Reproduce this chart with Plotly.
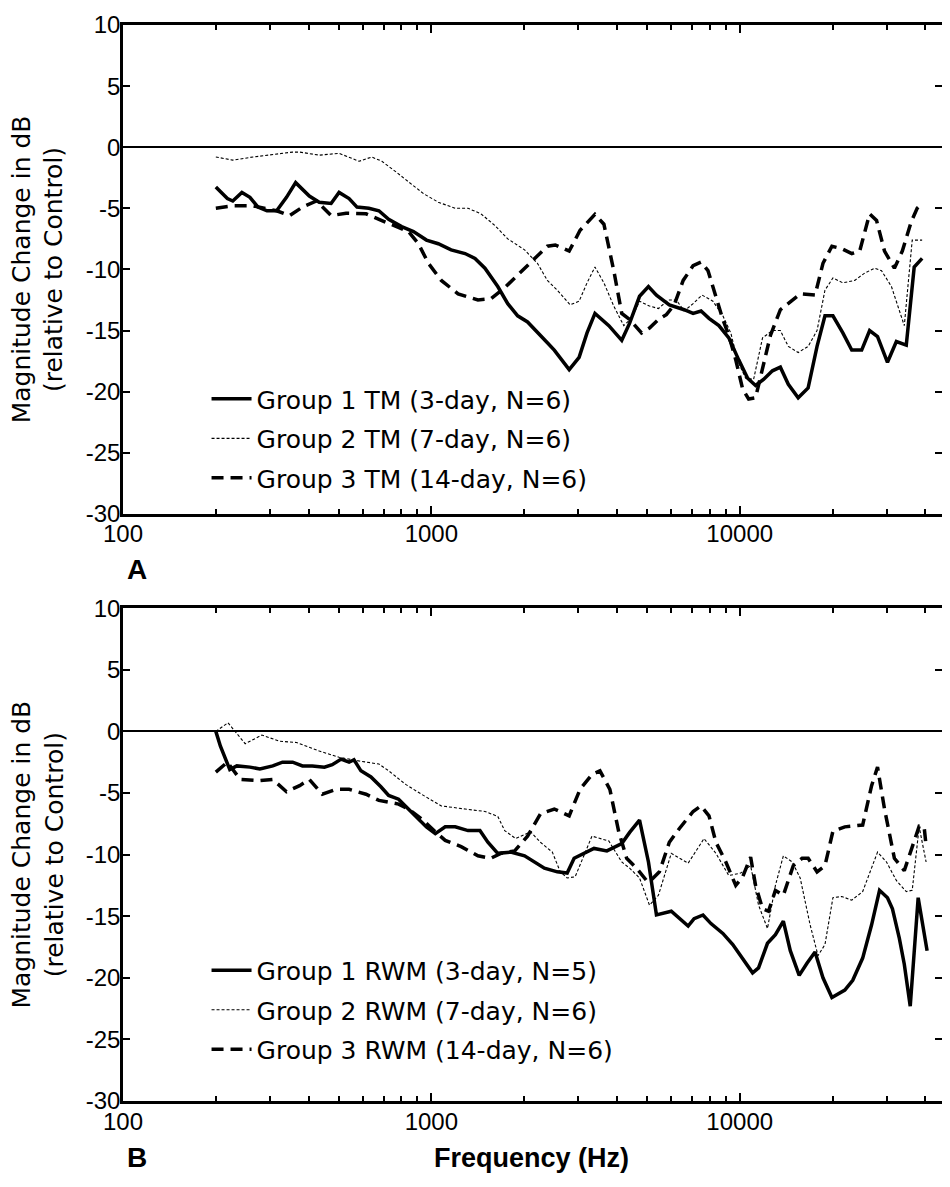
import plotly.graph_objects as go

# ---------------- Panel A (TM) ----------------
tm_g1_f = [200, 218, 227, 243, 258, 274, 293, 315, 339, 363, 402, 433, 473, 502, 541, 574, 627, 676, 727, 801,
           875, 964, 1053, 1159, 1286, 1385, 1492, 1642, 1769, 1905, 2051, 2208, 2378, 2504, 2657, 2799, 3014,
           3198, 3393, 3764, 4144, 4396, 4733, 5059, 5370, 5912, 6605, 7061, 7492, 7949, 8560, 9218, 9926,
           10610, 11256, 11946, 12767, 13546, 14374, 15477, 16668, 17815, 18900, 20057, 21598, 23084, 24862,
           26379, 27987, 30143, 32212, 34684, 36801, 39047]
tm_g1_db = [-3.25, -4.2, -4.4, -3.7, -4.1, -4.9, -5.2, -5.2, -4.1, -2.9, -4.0, -4.5, -4.6, -3.7, -4.2, -4.9, -5.0,
            -5.2, -5.9, -6.5, -6.9, -7.6, -7.9, -8.4, -8.7, -9.1, -9.9, -11.4, -12.8, -13.8, -14.3, -15.2, -16.0,
            -16.6, -17.5, -18.2, -17.2, -15.2, -13.6, -14.6, -15.8, -14.4, -12.2, -11.4, -12.1, -12.9, -13.3,
            -13.6, -13.4, -14.0, -14.6, -15.6, -17.4, -18.9, -19.5, -19.0, -18.3, -18.0, -19.4, -20.5, -19.7,
            -16.3, -13.8, -13.8, -15.2, -16.6, -16.6, -15.0, -15.5, -17.6, -15.9, -16.2, -9.8, -9.1]

tm_g2_f = [200, 227, 264, 355, 374, 424, 433, 502, 541, 583, 641, 691, 766, 843, 943, 1053, 1195, 1315, 1448, 1606,
           1769, 2006, 2208, 2378, 2561, 2820, 3014, 3198, 3393, 3627, 3905, 4206, 4461, 4733, 5097, 5450, 5869,
           6226, 6605, 7061, 7548, 8188, 8818, 9356, 9853, 10454, 11092, 11858, 12767, 13546, 14374, 15477,
           16668, 17815, 18900, 20057, 21598, 23605, 25420, 27375, 28832, 31050, 32450, 34175, 36259, 39047]
tm_g2_db = [-0.8, -1.06, -0.8, -0.4, -0.4, -0.6, -0.65, -0.5, -0.8, -1.15, -0.8, -1.15, -2.0, -2.85, -3.8, -4.5,
            -5.0, -5.0, -5.45, -6.4, -7.5, -8.4, -9.5, -10.9, -11.7, -12.9, -12.6, -11.1, -9.8, -11.1, -13.0,
            -14.6, -14.0, -12.6, -13.0, -13.2, -12.5, -12.5, -13.4, -12.8, -12.1, -12.6, -13.8, -15.2, -17.5,
            -18.9, -19.0, -15.6, -15.0, -15.0, -16.3, -16.8, -16.3, -15.0, -11.7, -10.7, -11.1, -10.9, -10.3,
            -9.9, -10.1, -11.4, -12.8, -14.6, -7.6, -7.6]

tm_g3_f = [200, 227, 264, 315, 347, 382, 424, 473, 529, 614, 691, 766, 843, 908, 978, 1077, 1221, 1416, 1559, 1729,
           1947, 2160, 2378, 2523, 2799, 3036, 3393, 3627, 3905, 4144, 4396, 4804, 5097, 5450, 5783, 6134, 6556,
           7061, 7492, 7890, 8372, 8818, 9218, 9708, 10224, 10689, 11256, 11858, 12580, 13546, 14806, 15707,
           17554, 18621, 19907, 21438, 23084, 24496, 26379, 27782, 29482, 31740, 33674, 35993, 37628, 39047]
tm_g3_db = [-5.0, -4.8, -4.8, -5.2, -5.6, -4.9, -4.4, -5.6, -5.4, -5.45, -6.0, -6.5, -6.9, -7.9, -9.5, -10.9,
            -12.0, -12.5, -12.4, -11.5, -10.2, -9.1, -8.1, -8.0, -8.5, -6.8, -5.5, -6.3, -10.1, -13.6, -14.1,
            -15.2, -14.8, -14.1, -13.7, -12.9, -10.9, -9.7, -9.4, -10.1, -12.2, -14.1, -15.4, -17.4, -19.8,
            -20.6, -20.5, -18.2, -15.4, -13.3, -12.5, -12.0, -12.1, -9.5, -8.1, -8.3, -8.7, -8.5, -5.45, -6.0,
            -8.5, -9.9, -8.5, -6.1, -5.0, -4.6]

# ---------------- Panel B (RWM) ----------------
rwm_g1_f = [200, 207, 222, 234, 258, 278, 306, 329, 355, 382, 411, 450, 477, 510, 541, 561, 591, 637, 686, 727,
            783, 843, 908, 964, 1030, 1109, 1195, 1315, 1437, 1525, 1642, 1808, 2006, 2160, 2326, 2561, 2757,
            2904, 3128, 3368, 3709, 4144, 4396, 4733, 5059, 5370, 5999, 6365, 6803, 7114, 7603, 8068, 8818,
            9495, 10224, 11010, 11510, 12303, 13055, 13852, 14588, 15592, 16544, 17554, 18621, 19907, 21919,
            23256, 25046, 26773, 28408, 30143, 31281, 32936, 34175, 35728, 37907, 39047, 40520]
rwm_g1_db = [0.0, -1.2, -3.1, -2.8, -2.9, -3.05, -2.8, -2.5, -2.5, -2.8, -2.8, -2.9, -2.7, -2.25, -2.5, -2.3,
             -3.2, -3.7, -4.5, -5.2, -5.5, -6.3, -7.1, -7.75, -8.3, -7.75, -7.75, -8.05, -8.05, -9.0, -9.9,
             -9.8, -10.1, -10.6, -11.1, -11.4, -11.5, -10.3, -9.9, -9.5, -9.7, -9.1, -8.2, -7.2, -10.6, -14.9,
             -14.6, -15.2, -15.8, -15.2, -14.9, -15.6, -16.4, -17.3, -18.5, -19.6, -19.2, -17.2, -16.5, -15.4,
             -17.8, -19.8, -18.8, -17.9, -20.0, -21.6, -21.0, -20.2, -18.4, -15.7, -12.9, -13.5, -14.4, -16.8,
             -18.9, -22.3, -13.5, -15.4, -17.8]

rwm_g2_f = [200, 219, 249, 282, 322, 365, 433, 502, 583, 676, 727, 825, 929, 1077, 1286, 1492, 1642, 1729, 1877,
            2097, 2258, 2468, 2618, 2757, 2926, 3128, 3318, 3764, 4144, 4396, 4733, 5097, 5450, 5999, 6803, 7660,
            8372, 9218, 10074, 10849, 11510, 12303, 13055, 13852, 14806, 15707, 16916, 17947, 18900, 20057,
            21438, 23084, 25046, 27987, 29921, 32212, 34684, 36259, 38188, 40222]
rwm_g2_db = [0.0, 0.7, -1.0, -0.3, -0.8, -0.9, -1.6, -2.1, -2.4, -2.65, -3.2, -4.3, -5.1, -6.05, -6.3, -6.5,
             -6.9, -8.05, -8.7, -8.15, -9.0, -9.8, -11.4, -11.9, -11.8, -10.1, -8.5, -8.9, -10.6, -11.1, -11.9,
             -14.1, -13.3, -9.9, -10.7, -8.7, -9.9, -11.7, -11.5, -10.9, -14.1, -16.0, -12.5, -10.1, -10.6,
             -11.9, -15.7, -18.2, -17.3, -13.5, -13.4, -13.7, -13.0, -9.8, -10.6, -12.1, -13.0, -12.9, -7.75,
             -10.6]

rwm_g3_f = [200, 218, 240, 278, 306, 339, 374, 402, 443, 491, 541, 614, 676, 783, 843, 929, 1030, 1109, 1249, 1416,
            1559, 1680, 1863, 2051, 2258, 2504, 2799, 3036, 3318, 3521, 3792, 4052, 4299, 4627, 4985, 5097, 5490,
            5912, 6365, 7061, 7492, 7949, 8372, 9016, 9708, 10224, 10849, 11256, 11858, 12394, 13055, 13852,
            14915, 15943, 16668, 17815, 18900, 20057, 21919, 25046, 26773, 27987, 29482, 31740, 34175, 36259,
            38188, 39633, 40222]
rwm_g3_db = [-3.3, -2.5, -3.9, -4.0, -3.9, -4.9, -4.4, -3.9, -5.1, -4.7, -4.7, -5.1, -5.6, -5.9, -6.3, -7.1,
             -8.15, -8.85, -9.35, -10.1, -10.3, -9.9, -9.7, -8.5, -6.7, -6.3, -6.85, -4.7, -3.5, -3.2, -4.7,
             -8.15, -10.3, -11.1, -12.1, -12.2, -11.4, -9.0, -7.9, -6.5, -6.05, -6.85, -9.0, -10.6, -12.5, -11.8,
             -10.2, -12.5, -14.4, -14.6, -12.9, -13.3, -10.9, -10.3, -10.3, -11.4, -10.9, -8.1, -7.75, -7.6,
             -4.4, -2.9, -6.3, -10.3, -11.3, -9.3, -7.7, -7.75, -9.3]

legend_a = ["Group 1 TM (3-day, N=6)", "Group 2 TM (7-day, N=6)", "Group 3 TM (14-day, N=6)"]
legend_b = ["Group 1 RWM (3-day, N=5)", "Group 2 RWM (7-day, N=6)", "Group 3 RWM (14-day, N=6)"]

x_major = [100, 1000, 10000]
x_major_text = ["100", "1000", "10000"]
x_minor = [200, 300, 400, 500, 600, 700, 800, 900,
           2000, 3000, 4000, 5000, 6000, 7000, 8000, 9000,
           20000, 30000, 40000]
y_ticks = [-30, -25, -20, -15, -10, -5, 0, 5, 10]
y_ticktext = ["-30", "-25", "-20", "-15", "-10", "-5", "0", "5", "10"]

styles = [dict(color="black", width=3.5, dash="solid"),
          dict(color="black", width=1.1, dash="3px,2px"),
          dict(color="black", width=3.5, dash="12px,7px")]

fig = go.Figure()
panel_a = [(tm_g1_f, tm_g1_db), (tm_g2_f, tm_g2_db), (tm_g3_f, tm_g3_db)]
panel_b = [(rwm_g1_f, rwm_g1_db), (rwm_g2_f, rwm_g2_db), (rwm_g3_f, rwm_g3_db)]
for i, (f, d) in enumerate(panel_a):
    fig.add_trace(go.Scatter(x=f, y=d, mode="lines", line=styles[i], name=legend_a[i],
                             xaxis="x", yaxis="y", legend="legend", legendgroup="a%d" % i))
for i, (f, d) in enumerate(panel_b):
    fig.add_trace(go.Scatter(x=f, y=d, mode="lines", line=styles[i], name=legend_b[i],
                             xaxis="x2", yaxis="y2", legend="legend2", legendgroup="b%d" % i))

tick_font = dict(family="Liberation Sans, Arial, sans-serif", size=24, color="black")
xcommon = dict(type="log", range=[2, 4.656], tickvals=x_major, ticktext=x_major_text,
               ticks="inside", ticklen=8, tickwidth=1.5, tickcolor="black", ticklabelstandoff=-3,
               minor=dict(tickmode="array", tickvals=x_minor, ticks="inside", ticklen=5,
                          tickwidth=1.5, tickcolor="black"),
               showline=True, linewidth=2.5, linecolor="black", mirror="allticks",
               showgrid=False, zeroline=False, tickfont=tick_font)
ycommon = dict(range=[-30, 10], tickvals=y_ticks, ticktext=y_ticktext, ticks="inside", ticklen=7,
               tickwidth=1.5, ticklabelstandoff=-5,
               tickcolor="black", showline=True, linewidth=2.5, linecolor="black", mirror="allticks",
               showgrid=False, zeroline=True, zerolinecolor="black", zerolinewidth=2,
               tickfont=tick_font)

legend_font = dict(family="DejaVu Sans, sans-serif", size=25, color="black")
title_font = dict(family="DejaVu Sans, sans-serif", size=25, color="black")

# Page has an 8px body margin: figure is sized/offset so the plot lands where the reference has it.
fig.update_layout(
    width=940, height=1175,
    margin=dict(l=115, r=3, t=9, b=82),
    paper_bgcolor="white", plot_bgcolor="white",
    xaxis=dict(domain=[0, 1], anchor="y", **xcommon),
    yaxis=dict(domain=[0.5457, 1], anchor="x", **ycommon),
    xaxis2=dict(domain=[0, 1], anchor="y2", **xcommon),
    yaxis2=dict(domain=[0, 0.458], anchor="x2", **ycommon),
    legend=dict(x=0.102, y=0.6737, xanchor="left", yanchor="top", font=legend_font,
                bgcolor="rgba(0,0,0,0)", tracegroupgap=4, itemwidth=40),
    legend2=dict(x=0.102, y=0.1426, xanchor="left", yanchor="top", font=legend_font,
                 bgcolor="rgba(0,0,0,0)", tracegroupgap=4, itemwidth=40),
    showlegend=True,
    annotations=[
        dict(text="Magnitude Change in dB<br>(relative to Control)", textangle=-90,
             xref="paper", yref="paper", x=0, y=0.7729, xshift=-85, xanchor="center",
             yanchor="middle", showarrow=False, font=title_font),
        dict(text="Magnitude Change in dB<br>(relative to Control)", textangle=-90,
             xref="paper", yref="paper", x=0, y=0.229, xshift=-85, xanchor="center",
             yanchor="middle", showarrow=False, font=title_font),
        dict(text="<b>A</b>", xref="paper", yref="paper", x=0.017, y=0.494, xanchor="center",
             yanchor="middle", showarrow=False,
             font=dict(family="Liberation Sans, Arial, sans-serif", size=28, color="black")),
        dict(text="<b>B</b>", xref="paper", yref="paper", x=0.017, y=-0.0526, xanchor="center",
             yanchor="middle", showarrow=False,
             font=dict(family="Liberation Sans, Arial, sans-serif", size=28, color="black")),
        dict(text="<b>Frequency (Hz)</b>", xref="paper", yref="paper", x=0.499, y=-0.0526,
             xanchor="center", yanchor="middle", showarrow=False,
             font=dict(family="Liberation Sans, Arial, sans-serif", size=27, color="black")),
    ],
)

fig.write_html("out.html")
